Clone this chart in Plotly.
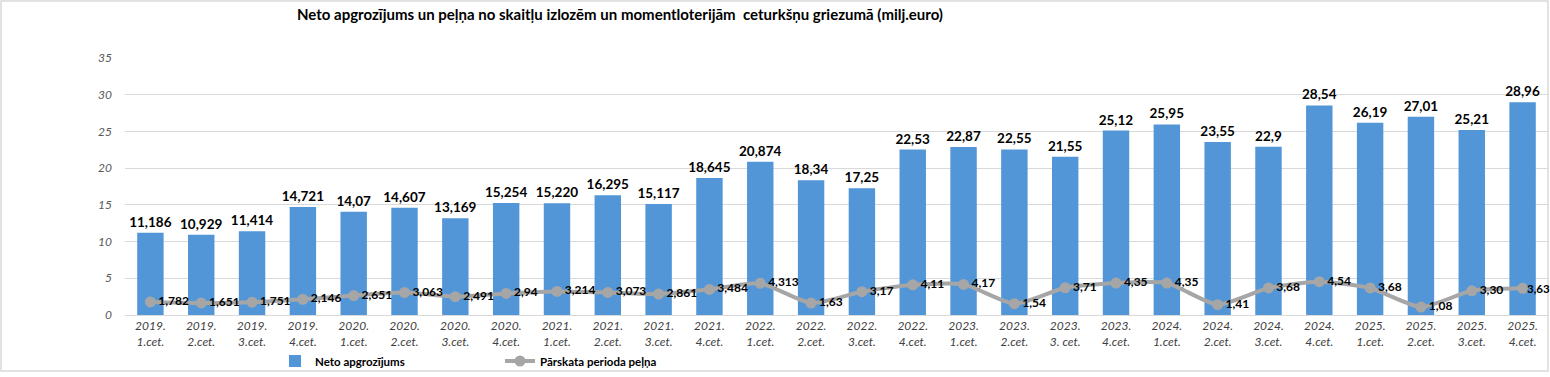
import plotly.graph_objects as go

categories = [
    "2019.<br>1.cet.", "2019.<br>2.cet.", "2019.<br>3.cet.", "2019.<br>4.cet.",
    "2020.<br>1.cet.", "2020.<br>2.cet.", "2020.<br>3.cet.", "2020.<br>4.cet.",
    "2021.<br>1.cet.", "2021.<br>2.cet.", "2021.<br>3.cet.", "2021.<br>4.cet.",
    "2022.<br>1.cet.", "2022.<br>2.cet.", "2022.<br>3.cet.", "2022.<br>4.cet.",
    "2023.<br>1.cet.", "2023.<br>2.cet.", "2023.<br>3. cet.", "2023.<br>4.cet.",
    "2024.<br>1.cet.", "2024.<br>2.cet.", "2024.<br>3.cet.", "2024.<br>4.cet.",
    "2025.<br>1.cet.", "2025.<br>2.cet.", "2025.<br>3.cet.", "2025.<br>4.cet.",
]

neto = [11.186, 10.929, 11.414, 14.721, 14.07, 14.607, 13.169, 15.254,
        15.220, 16.295, 15.117, 18.645, 20.874, 18.34, 17.25, 22.53,
        22.87, 22.55, 21.55, 25.12, 25.95, 23.55, 22.9, 28.54,
        26.19, 27.01, 25.21, 28.96]
neto_labels = ["11,186", "10,929", "11,414", "14,721", "14,07", "14,607", "13,169", "15,254",
               "15,220", "16,295", "15,117", "18,645", "20,874", "18,34", "17,25", "22,53",
               "22,87", "22,55", "21,55", "25,12", "25,95", "23,55", "22,9", "28,54",
               "26,19", "27,01", "25,21", "28,96"]

pelna = [1.782, 1.651, 1.751, 2.146, 2.651, 3.063, 2.491, 2.94,
         3.214, 3.073, 2.861, 3.484, 4.313, 1.63, 3.17, 4.11,
         4.17, 1.54, 3.71, 4.35, 4.35, 1.41, 3.68, 4.54,
         3.68, 1.08, 3.30, 3.63]
pelna_labels = ["1,782", "1,651", "1,751", "2,146", "2,651", "3,063", "2,491", "2,94",
                "3,214", "3,073", "2,861", "3,484", "4,313", "1,63", "3,17", "4,11",
                "4,17", "1,54", "3,71", "4,35", "4,35", "1,41", "3,68", "4,54",
                "3,68", "1,08", "3,30", "3,63"]

y_ticks = [0, 5, 10, 15, 20, 25, 30, 35]

FONT = "Lato, 'Open Sans', sans-serif"
LBL_FONT = dict(family=FONT, size=12, color="#000000", weight="bold")

fig = go.Figure()
fig.add_trace(go.Bar(
    x=categories, y=neto, name="Neto apgrozījums",
    marker=dict(color="#5296d8", line=dict(width=0)),
    width=0.52,
    text=neto_labels, textposition="outside", cliponaxis=False,
    constraintext="none",
    textfont=dict(family=FONT, size=13.5, color="#000000", weight="bold"),
))
fig.add_trace(go.Scatter(
    x=categories, y=pelna, name="Pārskata perioda peļņa",
    mode="lines+markers+text",
    line=dict(color="#a6a6a6", width=4, shape="spline", smoothing=0.6),
    marker=dict(color="#a6a6a6", size=11, symbol="circle"),
    text=pelna_labels[:-1] + [""], textposition="middle right",
    textfont=LBL_FONT,
    cliponaxis=False,
))
# last line label squeezed in next to its point (as in the reference)
fig.add_annotation(
    x=categories[-1], y=pelna[-1], text=pelna_labels[-1],
    xanchor="left", yanchor="middle", xshift=2, showarrow=False,
    font=dict(family=FONT, size=11.5, color="#000000", weight="bold"),
)

fig.update_layout(
    width=1550, height=377,
    margin=dict(l=125, r=2, t=58, b=62),
    paper_bgcolor="white", plot_bgcolor="white",
    font=dict(family=FONT, color="#595959"),
    title=dict(
        text="Neto apgrozījums un peļņa no skaitļu izlozēm un momentloterijām  ceturkšņu griezumā (milj.euro)",
        x=620 / 1550, xanchor="center", y=1 - 15 / 377, yanchor="middle",
        font=dict(family=FONT, size=15, color="#000000", weight="bold"),
    ),
    bargap=0.48,
    showlegend=True,
    legend=dict(
        orientation="h", x=(275 - 125) / 1423, xanchor="left",
        y=(315 - 361) / 257, yanchor="middle",
        font=dict(family=FONT, size=11.5, color="#000000", weight="bold"),
        entrywidth=180, entrywidthmode="pixels", itemwidth=30,
        bgcolor="rgba(0,0,0,0)",
    ),
    xaxis=dict(
        range=[-0.5, len(categories) - 0.5], autorange=False,
        tickfont=dict(family=FONT, size=12, color="#404040", style="italic"),
        showgrid=False, showline=True, linecolor="#d9d9d9", linewidth=1,
        ticks="", tickangle=0,
    ),
    yaxis=dict(
        range=[0, 35], tickvals=y_ticks, ticktext=[str(v) for v in y_ticks],
        tickfont=dict(family=FONT, size=12, color="#595959", style="italic"),
        showgrid=True, gridcolor="#d9d9d9", gridwidth=1,
        zeroline=False, showline=False, ticks="", ticklabelstandoff=12,
    ),
    shapes=[dict(
        type="rect", xref="paper", yref="paper",
        x0=(1 - 125) / 1423, x1=(1548 - 125) / 1423,
        y0=(315 - 371) / 257, y1=(315 - 1) / 257,
        line=dict(color="#d9d9d9", width=1.5), fillcolor="rgba(0,0,0,0)", layer="below",
    )],
)

fig.write_html("out.html", config={"displayModeBar": False},
               post_script="document.body.style.margin='0';")
